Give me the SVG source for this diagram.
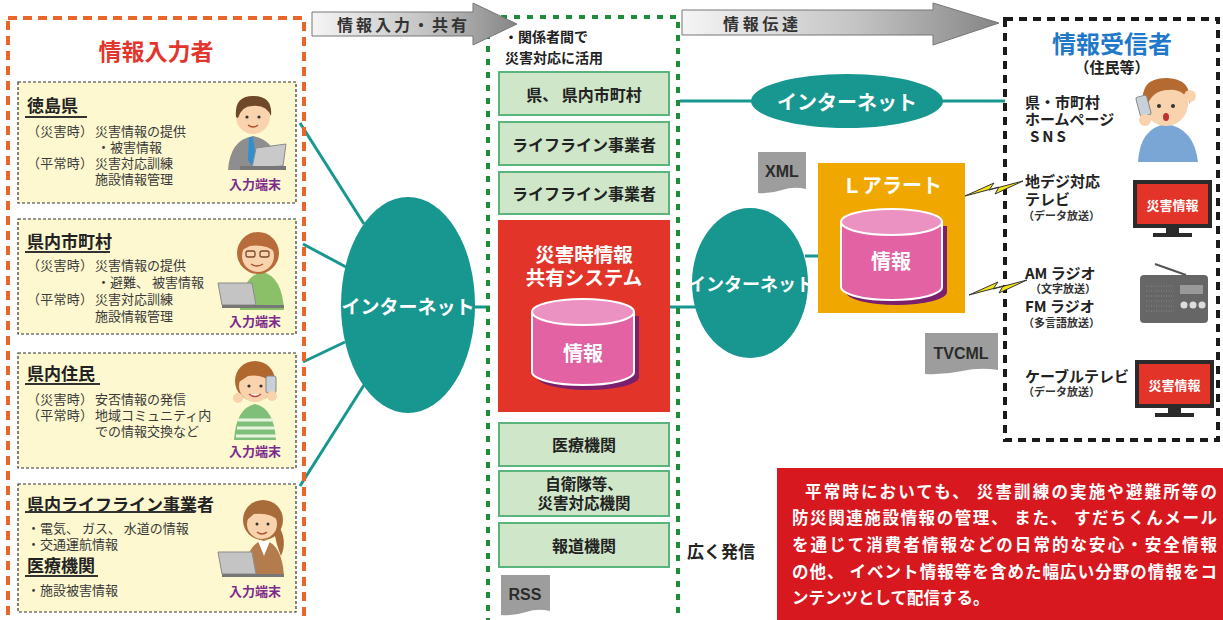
<svg xmlns="http://www.w3.org/2000/svg" width="1223" height="620" viewBox="0 0 1223 620">
  <style>
    text { font-family: "Noto Sans CJK JP", "Noto Sans", sans-serif; dominant-baseline: central; }
    .b { font-weight: bold; }
    .body { font-size: 13px; fill: #3a3a3a; }
    .head { font-size: 17px; font-weight: bold; fill: #222; }
    .term { font-size: 13px; font-weight: bold; fill: #7e2a8c; text-anchor: middle; }
    .gbox { fill: #cfe7c8; stroke: #5ab57c; stroke-width: 2; }
    .gtxt { font-size: 16px; font-weight: bold; fill: #222; text-anchor: middle; }
    .net { fill: #17978f; }
    .nettxt { font-weight: bold; fill: #fff; text-anchor: middle; }
    .conn { stroke: #17978f; stroke-width: 3; fill: none; }
    .tag { fill: #9d9d9d; }
    .tagtxt { font-family: "Liberation Sans", "Noto Sans", sans-serif; font-size: 16px; font-weight: bold; fill: #2b2b2b; text-anchor: middle; }
    .rtxt { font-size: 15px; font-weight: bold; fill: #222; }
    .rsmall { font-size: 11px; font-weight: bold; fill: #333; }
    .note { font-size: 16.5px; font-weight: bold; fill: #fff; }
    .skin { fill: #f8d3ad; }
    .ul { stroke: #333; stroke-width: 2; }
  </style>
  <defs>
    <linearGradient id="arrowGrad" x1="0" y1="0" x2="1" y2="0">
      <stop offset="0" stop-color="#f5f5f5"/>
      <stop offset="0.55" stop-color="#c4c4c4"/>
      <stop offset="1" stop-color="#858585"/>
    </linearGradient>
    <polygon id="bolt" points="965,196 994,183 989,190 1023,181 995,194 999,187" fill="#f4e41c" stroke="#333" stroke-width="1"/>
    <g id="tvScreen">
      <rect x="0" y="0" width="79" height="48" fill="#2b2b2b"/>
      <rect x="4" y="4" width="71" height="40" fill="#e3342a"/>
      <rect x="33" y="48" width="13" height="5" fill="#2b2b2b"/>
      <rect x="20" y="53" width="39" height="4" fill="#2b2b2b"/>
      <text x="39.5" y="24" class="b" style="font-size:13px;fill:#fff;text-anchor:middle">災害情報</text>
    </g>
  </defs>

  <rect width="1223" height="620" fill="#fff"/>

  <!-- connectors -->
  <g id="connectors">
    <line class="conn" x1="300" y1="123" x2="364" y2="224"/>
    <line class="conn" x1="303" y1="244" x2="346" y2="267"/>
    <line class="conn" x1="303" y1="362" x2="345" y2="342"/>
    <line class="conn" x1="364" y1="385" x2="300" y2="486"/>
    <line class="conn" x1="474" y1="307" x2="490" y2="307"/>
    <line class="conn" x1="668" y1="307" x2="696" y2="307"/>
    <line class="conn" x1="680" y1="101" x2="752" y2="101"/>
    <line class="conn" x1="942" y1="101" x2="1005" y2="101"/>
    <line class="conn" x1="805" y1="256" x2="819" y2="256"/>
  </g>

  <!-- information providers -->
  <g id="providers">
    <rect x="8" y="18" width="296" height="640" fill="none" stroke="#e9662a" stroke-width="4" stroke-dasharray="9 6"/>
    <text x="156" y="50" class="b" style="font-size:23px;fill:#e2352c;text-anchor:middle">情報入力者</text>
  </g>

  <g id="tokushima">
    <rect x="18" y="82" width="278" height="121" fill="#fdf8cf" stroke="#333" stroke-width="1.2" stroke-dasharray="3 2"/>
    <text x="27" y="104" class="head">徳島県</text>
    <line class="ul" x1="25" y1="117" x2="87" y2="117"/>
    <text x="27" y="130" class="body" textLength="66">（災害時）</text>
    <text x="95" y="130" class="body">災害情報の提供</text>
    <text x="97" y="146" class="body">・被害情報</text>
    <text x="27" y="162" class="body" textLength="66">（平常時）</text>
    <text x="95" y="162" class="body">災害対応訓練</text>
    <text x="95" y="178" class="body">施設情報管理</text>
    <!-- man at laptop -->
    <path d="M228,170 Q230,140 253,136 Q276,140 280,170 Z" fill="#8e8e8e"/>
    <path d="M249,137 L253,137 L256,160 L251,165 L248,160 Z" fill="#2f8fd0"/>
    <circle cx="253" cy="117" r="17" class="skin"/>
    <path d="M236,117 Q234,96 253,96 Q273,96 271,116 Q266,104 252,106 Q242,106 238,118 Z" fill="#6e4828"/>
    <circle cx="247" cy="117" r="1.6" fill="#333"/>
    <circle cx="259" cy="117" r="1.6" fill="#333"/>
    <path d="M248,125 Q253,129 258,125" stroke="#b05030" stroke-width="1.5" fill="none"/>
    <path d="M256,148 L286,144 L283,166 L252,168 Z" fill="#c9c9c9" stroke="#8a8a8a"/>
    <rect x="240" y="166" width="46" height="4" fill="#777"/>
    <text x="255" y="183" class="term">入力端末</text>
  </g>

  <g id="municipalities">
    <rect x="18" y="219" width="278" height="115" fill="#fdf8cf" stroke="#333" stroke-width="1.2" stroke-dasharray="3 2"/>
    <text x="27" y="240" class="head">県内市町村</text>
    <line class="ul" x1="25" y1="252" x2="110" y2="252"/>
    <text x="27" y="264" class="body" textLength="66">（災害時）</text>
    <text x="95" y="264" class="body">災害情報の提供</text>
    <text x="97" y="281" class="body">・避難、 被害情報</text>
    <text x="27" y="298" class="body" textLength="66">（平常時）</text>
    <text x="95" y="298" class="body">災害対応訓練</text>
    <text x="95" y="315" class="body">施設情報管理</text>
    <!-- woman with glasses at laptop -->
    <path d="M240,310 Q242,276 262,272 Q282,276 284,310 Z" fill="#8cc068"/>
    <circle cx="258" cy="253" r="21" fill="#b86c3c"/>
    <circle cx="258" cy="256" r="16" class="skin"/>
    <path d="M242,250 Q246,236 260,237 Q274,238 275,252 Q266,244 250,246 Z" fill="#b86c3c"/>
    <rect x="246" y="251" width="9" height="6" rx="2" fill="none" stroke="#7a4a2a" stroke-width="1.3"/>
    <rect x="260" y="251" width="9" height="6" rx="2" fill="none" stroke="#7a4a2a" stroke-width="1.3"/>
    <path d="M251,264 Q257,268 263,264" stroke="#b05030" stroke-width="1.5" fill="none"/>
    <path d="M218,283 L252,283 L256,305 L222,305 Z" fill="#c4c4c4" stroke="#8a8a8a"/>
    <rect x="222" y="305" width="62" height="3" fill="#777"/>
    <text x="255" y="320" class="term">入力端末</text>
  </g>

  <g id="residents">
    <rect x="18" y="353" width="278" height="115" fill="#fdf8cf" stroke="#333" stroke-width="1.2" stroke-dasharray="3 2"/>
    <text x="27" y="372" class="head">県内住民</text>
    <line class="ul" x1="25" y1="384" x2="100" y2="384"/>
    <text x="27" y="398" class="body" textLength="66">（災害時）</text>
    <text x="95" y="398" class="body">安否情報の発信</text>
    <text x="27" y="414" class="body" textLength="66">（平常時）</text>
    <text x="95" y="414" class="body">地域コミュニティ内</text>
    <text x="95" y="430" class="body">での情報交換など</text>
    <!-- resident calling on a phone -->
    <path d="M234,440 Q236,408 255,404 Q274,408 276,440 Z" fill="#7fbf7a"/>
    <path d="M238,420 H274 M237,428 H275 M236,436 H276" stroke="#e8f3e0" stroke-width="3"/>
    <circle cx="255" cy="381" r="20" fill="#b0682f"/>
    <circle cx="255" cy="386" r="16" class="skin"/>
    <path d="M239,382 Q242,368 256,368 Q270,368 271,382 Q262,374 248,376 Z" fill="#b0682f"/>
    <circle cx="249" cy="386" r="1.6" fill="#333"/>
    <circle cx="261" cy="386" r="1.6" fill="#333"/>
    <path d="M249,394 Q255,399 261,394" stroke="#c04040" stroke-width="1.5" fill="#fff"/>
    <rect x="266" y="376" width="10" height="17" rx="2" fill="#c8d0d8" stroke="#888"/>
    <circle cx="272" cy="396" r="5" class="skin"/>
    <circle cx="238" cy="398" r="5" class="skin"/>
    <text x="255" y="450" class="term">入力端末</text>
  </g>

  <g id="lifelines">
    <rect x="18" y="484" width="278" height="128" fill="#fdf8cf" stroke="#333" stroke-width="1.2" stroke-dasharray="3 2"/>
    <text x="27" y="503" class="head">県内ライフライン事業者</text>
    <line class="ul" x1="25" y1="512" x2="195" y2="512"/>
    <text x="27" y="527" class="body">・電気、 ガス、 水道の情報</text>
    <text x="27" y="543" class="body">・交通運航情報</text>
    <text x="27" y="564" class="head">医療機関</text>
    <line class="ul" x1="25" y1="576" x2="98" y2="576"/>
    <text x="27" y="589" class="body">・施設被害情報</text>
    <!-- operator at laptop -->
    <path d="M244,576 Q246,544 264,540 Q282,544 284,576 Z" fill="#b47c4c"/>
    <path d="M258,541 L270,541 L264,556 Z" fill="#fff"/>
    <circle cx="263" cy="520" r="20" fill="#a86b3a"/>
    <path d="M278,525 Q288,540 281,556 Q276,544 274,530 Z" fill="#a86b3a"/>
    <circle cx="262" cy="524" r="15" class="skin"/>
    <path d="M247,520 Q250,506 264,506 Q278,507 279,521 Q270,512 254,514 Z" fill="#a86b3a"/>
    <circle cx="257" cy="524" r="1.5" fill="#333"/>
    <circle cx="268" cy="524" r="1.5" fill="#333"/>
    <path d="M257,532 Q262,536 267,532" stroke="#b05030" stroke-width="1.5" fill="none"/>
    <path d="M218,552 L252,552 L256,574 L222,574 Z" fill="#c4c4c4" stroke="#8a8a8a"/>
    <rect x="222" y="574" width="62" height="3" fill="#777"/>
    <text x="255" y="590" class="term">入力端末</text>
  </g>

  <!-- internet (input side) -->
  <g id="net-input">
    <ellipse cx="408" cy="305" rx="67" ry="108" class="net"/>
    <text x="408" y="305" class="nettxt" style="font-size:19px">インターネット</text>
  </g>

  <!-- sharing system column -->
  <g id="sharing">
    <rect x="488" y="17" width="190" height="640" fill="none" stroke="#1f8c3c" stroke-width="4" stroke-dasharray="6 7"/>
    <text x="504" y="36" class="b" style="font-size:14px;fill:#222">・関係者間で</text>
    <text x="505" y="57" class="b" style="font-size:14px;fill:#222">災害対応に活用</text>
  </g>

  <g id="org-pref">
    <rect x="499" y="72" width="170" height="43" class="gbox"/>
    <text x="584" y="94" class="gtxt">県、 県内市町村</text>
  </g>
  <g id="org-lifeline1">
    <rect x="499" y="122" width="170" height="43" class="gbox"/>
    <text x="584" y="144" class="gtxt">ライフライン事業者</text>
  </g>
  <g id="org-lifeline2">
    <rect x="499" y="172" width="170" height="42" class="gbox"/>
    <text x="584" y="193" class="gtxt">ライフライン事業者</text>
  </g>

  <g id="share-system">
    <rect x="498" y="220" width="172" height="192" fill="#e3342a"/>
    <text x="584" y="253" class="b" style="font-size:19.5px;fill:#fff;text-anchor:middle">災害時情報</text>
    <text x="584" y="276" class="b" style="font-size:19.5px;fill:#fff;text-anchor:middle">共有システム</text>
    <path d="M537,316 V377 A51,13 0 0 0 639,377 V316 Z" fill="#7a1f6c"/>
    <path d="M532,312 V372 A51,13 0 0 0 634,372 V312 Z" fill="#e262a4" stroke="#fff" stroke-width="2"/>
    <ellipse cx="583" cy="312" rx="51" ry="13" fill="#ec92c2" stroke="#fff" stroke-width="2"/>
    <text x="583" y="352" class="b" style="font-size:20px;fill:#fff;text-anchor:middle">情報</text>
  </g>

  <g id="org-medical">
    <rect x="499" y="423" width="170" height="43" class="gbox"/>
    <text x="584" y="444" class="gtxt">医療機関</text>
  </g>
  <g id="org-sdf">
    <rect x="499" y="471" width="170" height="45" class="gbox"/>
    <text x="584" y="483" class="gtxt" style="font-size:15.5px">自衛隊等、</text>
    <text x="584" y="502" class="gtxt" style="font-size:15.5px">災害対応機関</text>
  </g>
  <g id="org-press">
    <rect x="499" y="523" width="170" height="44" class="gbox"/>
    <text x="584" y="545" class="gtxt">報道機関</text>
  </g>

  <g id="tag-rss">
    <path d="M501,575 H550 V611 Q538,608 526,612 T501,615 Z" class="tag"/>
    <text x="525" y="594" class="tagtxt">RSS</text>
  </g>

  <text x="687" y="550" class="b" style="font-size:17px;fill:#222">広く発信</text>

  <!-- flow arrows -->
  <g id="arrow-input">
    <polygon points="312,12 473,12 473,3 517,24 473,45 473,36 312,36" fill="url(#arrowGrad)" stroke="#777" stroke-width="1"/>
    <text x="337" y="24" class="b" style="font-size:16px;fill:#333" textLength="130" lengthAdjust="spacing">情報入力・共有</text>
  </g>
  <g id="arrow-deliver">
    <polygon points="682,10 933,10 933,3 999,23 933,45 933,35 682,35" fill="url(#arrowGrad)" stroke="#777" stroke-width="1"/>
    <text x="723" y="23" class="b" style="font-size:16px;fill:#333" textLength="75" lengthAdjust="spacing">情報伝達</text>
  </g>

  <!-- internet (web) -->
  <g id="net-web">
    <ellipse cx="847" cy="101" rx="96" ry="27" class="net"/>
    <text x="847" y="101" class="nettxt" style="font-size:20px">インターネット</text>
  </g>

  <!-- internet (to L-Alert) -->
  <g id="net-alert">
    <ellipse cx="750" cy="283" rx="58" ry="75" class="net"/>
    <text x="751" y="283" class="nettxt" style="font-size:18px">インターネット</text>
  </g>

  <g id="tag-xml">
    <path d="M758,152 H806 V189 Q794,186 782,190 T758,193 Z" class="tag"/>
    <text x="782" y="171" class="tagtxt">XML</text>
  </g>

  <g id="l-alert">
    <rect x="818" y="163" width="147" height="150" fill="#f0a800"/>
    <text x="892" y="184" class="b" style="font-size:20px;fill:#fff;text-anchor:middle">Ｌアラート</text>
    <path d="M846,226 V292 A50.5,13 0 0 0 947,292 V226 Z" fill="#7a1f6c"/>
    <path d="M841,222 V287 A50.5,13 0 0 0 942,287 V222 Z" fill="#e262a4" stroke="#fff" stroke-width="2"/>
    <ellipse cx="891.5" cy="222" rx="50.5" ry="13" fill="#ec92c2" stroke="#fff" stroke-width="2"/>
    <text x="891" y="260" class="b" style="font-size:20px;fill:#fff;text-anchor:middle">情報</text>
  </g>

  <g id="tag-tvcml">
    <path d="M925,333 H998 V370 Q980,367 962,371 T925,374 Z" class="tag"/>
    <text x="961" y="353" class="tagtxt">TVCML</text>
  </g>

  <!-- information receivers -->
  <g id="receivers">
    <rect x="1005" y="19" width="213" height="421" fill="none" stroke="#1a1a1a" stroke-width="4" stroke-dasharray="8 6"/>
    <text x="1112" y="42" class="b" style="font-size:24px;fill:#1f78c8;text-anchor:middle">情報受信者</text>
    <text x="1112" y="66" class="b" style="font-size:15px;fill:#222;text-anchor:middle">（住民等）</text>
  </g>

  <!-- broadcast links from L-Alert -->
  <g id="broadcast-links">
    <use href="#bolt"/>
    <use href="#bolt" transform="translate(4,99)"/>
  </g>

  <g id="recv-web">
    <text x="1025" y="101" class="rtxt">県・市町村</text>
    <text x="1025" y="118" class="rtxt">ホームページ</text>
    <text x="1030" y="135" class="rtxt" letter-spacing="3">SNS</text>
    <!-- resident on the phone -->
    <path d="M1138,162 Q1140,128 1166,124 Q1194,128 1198,162 Z" fill="#7aa6d6"/>
    <circle cx="1166" cy="104" r="22" class="skin"/>
    <path d="M1143,104 Q1140,78 1166,78 Q1192,78 1190,104 Q1184,88 1168,90 Q1152,90 1146,108 Z" fill="#b46a30"/>
    <circle cx="1159" cy="106" r="2" fill="#333"/>
    <circle cx="1173" cy="106" r="2" fill="#333"/>
    <ellipse cx="1166" cy="117" rx="3" ry="4" fill="#c03030"/>
    <rect x="1138" y="96" width="11" height="20" rx="2" fill="#c8d0d8" stroke="#888" transform="rotate(-15 1143 106)"/>
    <circle cx="1145" cy="120" r="6" class="skin"/>
    <circle cx="1190" cy="96" r="6" class="skin"/>
  </g>

  <g id="recv-dtv">
    <text x="1025" y="180" class="rtxt">地デジ対応</text>
    <text x="1025" y="198" class="rtxt">テレビ</text>
    <text x="1023" y="215" class="rsmall">（データ放送）</text>
    <use href="#tvScreen" transform="translate(1133,180)"/>
  </g>

  <g id="recv-radio">
    <text x="1025" y="272" class="rtxt">AM ラジオ</text>
    <text x="1030" y="288" class="rsmall">（文字放送）</text>
    <text x="1025" y="305" class="rtxt">FM ラジオ</text>
    <text x="1023" y="322" class="rsmall">（多言語放送）</text>
    <line x1="1155" y1="264" x2="1186" y2="275" stroke="#555" stroke-width="2"/>
    <rect x="1140" y="275" width="68" height="48" rx="4" fill="#666"/>
    <path d="M1146,286 H1174 M1146,291 H1174 M1146,296 H1174 M1146,301 H1174 M1146,306 H1174 M1146,311 H1174" stroke="#888" stroke-width="1" stroke-dasharray="1 1.5"/>
    <rect x="1180" y="285" width="23" height="9" fill="#999"/>
    <circle cx="1184" cy="305" r="3.5" fill="#ddd"/>
    <circle cx="1193" cy="305" r="3.5" fill="#ddd"/>
    <circle cx="1202" cy="305" r="3.5" fill="#ddd"/>
  </g>

  <g id="recv-catv">
    <text x="1025" y="375" class="rtxt">ケーブルテレビ</text>
    <text x="1023" y="391" class="rsmall">（データ放送）</text>
    <use href="#tvScreen" transform="translate(1135,360)"/>
  </g>

  <!-- everyday-use note -->
  <g id="note">
    <rect x="777" y="468" width="446" height="160" fill="#d7181f"/>
    <text x="805" y="491" class="note" textLength="412" lengthAdjust="spacing">平常時においても、 災害訓練の実施や避難所等の</text>
    <text x="792" y="517" class="note" textLength="425" lengthAdjust="spacing">防災関連施設情報の管理、 また、 すだちくんメール</text>
    <text x="792" y="544" class="note" textLength="425" lengthAdjust="spacing">を通じて消費者情報などの日常的な安心・安全情報</text>
    <text x="792" y="571" class="note" textLength="425" lengthAdjust="spacing">の他、 イベント情報等を含めた幅広い分野の情報をコ</text>
    <text x="792" y="597" class="note">ンテンツとして配信する。</text>
  </g>
</svg>
